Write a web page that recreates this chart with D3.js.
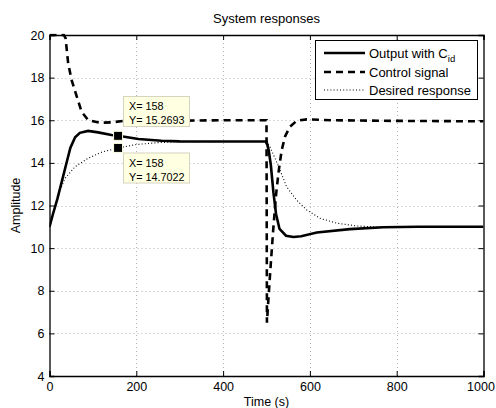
<!DOCTYPE html>
<html>
<head>
<meta charset="utf-8">
<script src="https://cdn.jsdelivr.net/npm/d3@7"></script>
<style>
	body { margin: 0; background: #fff; }
	svg { display: block; font-family: "Liberation Sans", Arial, sans-serif; }
</style>
</head>
<body>
<svg id="chart" width="496" height="408"></svg>
<script>
// System responses: output, control signal and desired response.
// Each series is a list of [time (s), amplitude] pairs.
const outputSeries = [
	[0, 11.0], [8, 11.6], [18, 12.3], [28, 13.1], [38, 13.9], [48, 14.7], [59, 15.2],
	[70, 15.41], [89, 15.5], [112, 15.43], [143, 15.31], [158, 15.27], [205, 15.12],
	[258, 15.04], [300, 15.01], [400, 15.0], [500, 15.0], [505, 14.6], [510, 13.9],
	[516, 12.6], [522, 11.6], [530, 10.9], [545, 10.58], [562, 10.52], [580, 10.56],
	[616, 10.73], [692, 10.89], [769, 10.98], [850, 11.0], [1000, 11.0],
];
const controlSeries = [
	[0, 20], [33, 20], [37, 19.85], [43, 18.67], [51, 17.88], [63, 17.1], [74, 16.4],
	[89, 16.01], [116, 15.88], [143, 15.9], [175, 15.98], [220, 16.0], [300, 15.98],
	[400, 16.0], [500, 16.0], [501, 6.5], [505, 7.8], [510, 9.3], [516, 11.0],
	[522, 12.5], [528, 13.6], [535, 14.6], [543, 15.25], [554, 15.7], [570, 15.98],
	[593, 16.04], [650, 16.0], [800, 15.97], [1000, 15.95],
];
const desiredSeries = [
	[0, 11.0], [7, 11.5], [13, 11.95], [20, 12.5], [36, 13.28], [59, 13.82], [89, 14.22],
	[120, 14.5], [158, 14.7], [200, 14.86], [250, 14.95], [300, 14.99], [400, 15.0],
	[500, 15.0], [508, 14.76], [520, 14.2], [531, 13.67], [546, 12.89], [569, 12.26],
	[593, 11.79], [623, 11.4], [662, 11.17], [708, 11.04], [754, 10.99], [800, 11.0],
	[1000, 11.0],
];
const xTicks = [0, 200, 400, 600, 800, 1000];
const yTicks = [4, 6, 8, 10, 12, 14, 16, 18, 20];
const legendLabels = ["Output with C", "Control signal", "Desired response"];
const dataTips = [
	{ x: 158, y: 15.2693 },
	{ x: 158, y: 14.7022 },
];

const svg = d3.select("#chart");
const m = { left: 49.5, right: 483.5, top: 35, bottom: 376 };

const x = d3.scaleLinear().domain([0, 1000]).range([m.left, m.right]);
const y = d3.scaleLinear().domain([4, 20]).range([m.bottom, m.top]);

// grid (MATLAB-style dotted)
const grid = svg.append("g")
	.attr("stroke", "#b4b4b4").attr("stroke-width", 1).attr("stroke-dasharray", "1,3");
grid.selectAll(".gx").data(xTicks.slice(1, -1)).join("line")
	.attr("x1", d => Math.round(x(d)) + 0.5).attr("x2", d => Math.round(x(d)) + 0.5)
	.attr("y1", m.top).attr("y2", m.bottom);
grid.selectAll(".gy").data(yTicks.slice(1, -1)).join("line")
	.attr("y1", d => Math.round(y(d)) + 0.5).attr("y2", d => Math.round(y(d)) + 0.5)
	.attr("x1", m.left).attr("x2", m.right);

// axes with inward ticks on all four sides
const tk = 5;
svg.append("g").attr("transform", `translate(0,${m.bottom})`)
	.call(d3.axisBottom(x).tickValues(xTicks).tickSize(-tk).tickPadding(6).tickFormat(d3.format("d")))
	.call(g => g.selectAll("text").attr("font-size", 12.5).attr("fill", "#000").attr("font-family", "inherit"))
	// keep the last label inside the page
	.call(g => g.selectAll(".tick").filter(d => d === 1000).select("text").attr("dx", -3));
svg.append("g").attr("transform", `translate(0,${m.top})`)
	.call(d3.axisTop(x).tickValues(xTicks).tickSize(-tk).tickFormat(""));
svg.append("g").attr("transform", `translate(${m.left},0)`)
	.call(d3.axisLeft(y).tickValues(yTicks).tickSize(-tk).tickPadding(5).tickFormat(d3.format("d")))
	.call(g => g.selectAll("text").attr("font-size", 12.5).attr("fill", "#000").attr("font-family", "inherit"));
svg.append("g").attr("transform", `translate(${m.right},0)`)
	.call(d3.axisRight(y).tickValues(yTicks).tickSize(-tk).tickFormat(""));
svg.selectAll(".domain").attr("stroke", "#000").attr("stroke-width", 1.3);
svg.selectAll(".tick line").attr("stroke", "#000");

// clip for the data lines
svg.append("clipPath").attr("id", "plotClip").append("rect")
	.attr("x", m.left).attr("y", m.top - 1.5)
	.attr("width", m.right - m.left).attr("height", m.bottom - m.top + 1.5);

const line = d3.line().x(d => x(d[0])).y(d => y(d[1]));
const plot = svg.append("g").attr("clip-path", "url(#plotClip)").attr("fill", "none");

plot.append("path").datum(desiredSeries).attr("d", line)
	.attr("stroke", "#000").attr("stroke-width", 1.1).attr("stroke-dasharray", "1,2.2");
plot.append("path").datum(controlSeries).attr("d", line)
	.attr("stroke", "#000").attr("stroke-width", 2.6).attr("stroke-dasharray", "7,5");
plot.append("path").datum(outputSeries).attr("d", line)
	.attr("stroke", "#000").attr("stroke-width", 2.6);

// title and axis labels
svg.append("text").attr("x", 266.5).attr("y", 23).attr("text-anchor", "middle")
	.attr("font-size", 13).text("System responses");
svg.append("text").attr("x", 266.5).attr("y", 406).attr("text-anchor", "middle")
	.attr("font-size", 12.5).text("Time (s)");
svg.append("text").attr("transform", `translate(20,${(m.top + m.bottom) / 2}) rotate(-90)`)
	.attr("text-anchor", "middle").attr("font-size", 12.5).text("Amplitude");

// legend
const lg = svg.append("g");
lg.append("rect").attr("x", 315.5).attr("y", 40.5).attr("width", 162).attr("height", 59)
	.attr("fill", "#fff").attr("stroke", "#000").attr("stroke-width", 1);
const rowsY = [53, 72, 90];
const styles = [
	{ w: 2.6, dash: null },
	{ w: 2.6, dash: "7,5" },
	{ w: 1.1, dash: "1,2.2" },
];
legendLabels.forEach((lab, i) => {
	lg.append("line").attr("x1", 324).attr("x2", 365).attr("y1", rowsY[i]).attr("y2", rowsY[i])
		.attr("stroke", "#000").attr("stroke-width", styles[i].w)
		.attr("stroke-dasharray", styles[i].dash);
	const t = lg.append("text").attr("x", 369).attr("y", rowsY[i] + 4.5).attr("font-size", 13).text(lab);
	if (i === 0) t.append("tspan").attr("dy", 4).attr("font-size", 9.5).text("id");
});

// data tips
const tipBoxes = [
	{ bx: 123, by: 96, lines: [106.5, 120] },
	{ bx: 123, by: 152.5, lines: [163, 177] },
];
dataTips.forEach((d, i) => {
	const b = tipBoxes[i];
	svg.append("rect").attr("x", b.bx + 0.5).attr("y", b.by + 0.5).attr("width", 66).attr("height", 30)
		.attr("fill", "#ffffe1").attr("stroke", "#d6d3bf").attr("stroke-width", 1);
	svg.append("text").attr("x", b.bx + 6).attr("y", b.lines[0] + 3.8).attr("font-size", 10.8)
		.text("X= " + d.x);
	svg.append("text").attr("x", b.bx + 6).attr("y", b.lines[1] + 3.8).attr("font-size", 10.8)
		.text("Y= " + d.y.toFixed(4));
	svg.append("rect").attr("x", x(d.x) - 4.5).attr("y", y(d.y) - 4.5).attr("width", 9).attr("height", 9)
		.attr("fill", "#000").attr("stroke", "#ffffe1").attr("stroke-width", 1);
});
</script>
</body>
</html>
